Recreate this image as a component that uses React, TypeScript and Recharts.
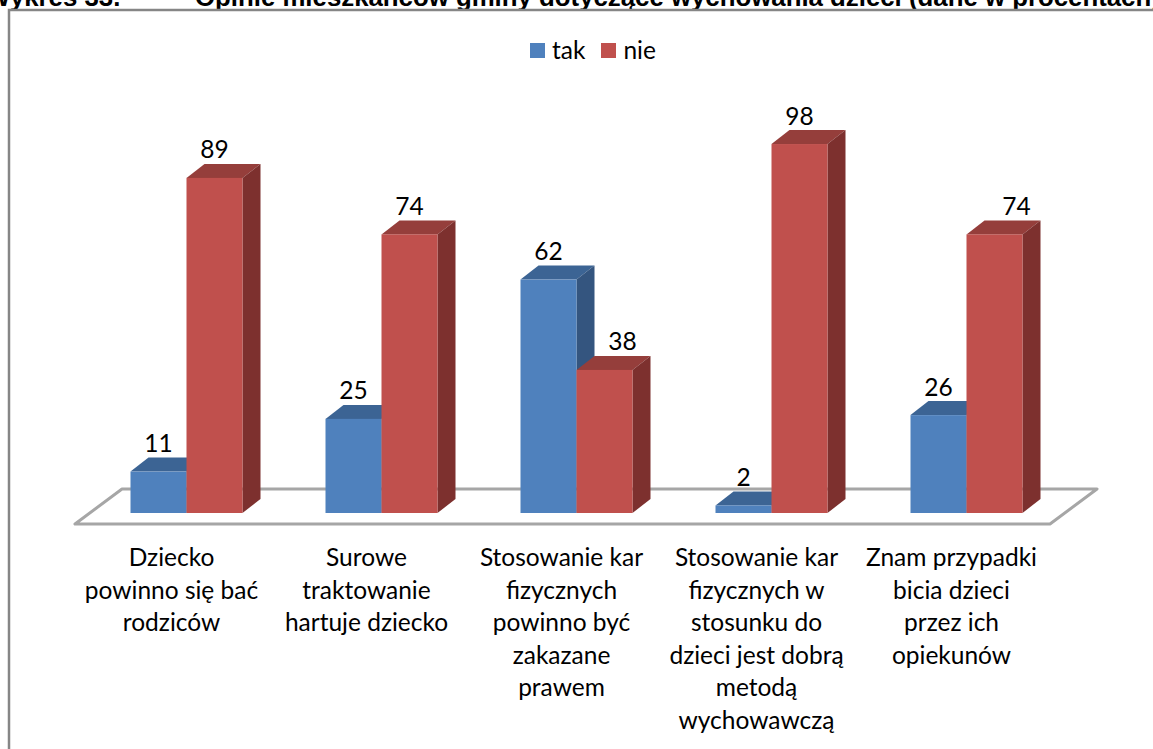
import React from "react";
import { BarChart, Bar, XAxis, YAxis, Legend, LabelList, Customized } from "recharts";

const categories = [
  "Dziecko\npowinno się bać\nrodziców",
  "Surowe\ntraktowanie\nhartuje dziecko",
  "Stosowanie kar\nfizycznych\npowinno być\nzakazane\nprawem",
  "Stosowanie kar\nfizycznych w\nstosunku do\ndzieci jest dobrą\nmetodą\nwychowawczą",
  "Znam przypadki\nbicia dzieci\nprzez ich\nopiekunów",
];
const takValues = [11, 25, 62, 2, 26];
const nieValues = [89, 74, 38, 98, 74];
const titleText = "Wykres 33.";
const titleBody = "Opinie mieszkańców gminy dotyczące wychowania dzieci (dane w procentach)";

const data = categories.map((name, i) => ({ name, tak: takValues[i], nie: nieValues[i] }));

const FONT = "Lato, Carlito, sans-serif";
const DX = 18;
const DY = 14;
const nieLabelNudge = [0, 0, 18, 0, 22];

const Bar3D = ({ x, y, width, height, front, top, side }: any) => (
  <g>
    <polygon points={`${x},${y} ${x + DX},${y - DY} ${x + width + DX},${y - DY} ${x + width},${y}`} fill={top} />
    <polygon
      points={`${x + width},${y} ${x + width + DX},${y - DY} ${x + width + DX},${y + height - DY} ${x + width},${y + height}`}
      fill={side}
    />
    <rect x={x} y={y} width={width} height={height} fill={front} />
  </g>
);

const Backdrop = () => (
  <g>
    <text x={-14} y={6} fontFamily="'Liberation Sans', Arial, sans-serif" fontWeight={700} fontSize={25.8} fill="#000">
      {titleText}
    </text>
    <text x={195} y={6} fontFamily="'Liberation Sans', Arial, sans-serif" fontWeight={700} fontSize={25.8} fill="#000">
      {titleBody}
    </text>
    <path d="M9,749 V10 H1153" fill="none" stroke="#868686" strokeWidth={2.5} />
    <polygon points="75,524 1050,524 1097,489 122,489" fill="#fff" stroke="#A6A6A6" strokeWidth={3} strokeLinejoin="round" />
  </g>
);

const CategoryTick = ({ x, y, payload }: any) => (
  <text textAnchor="middle" fontFamily={FONT} fontSize={24.5} fill="#000">
    {String(payload.value)
      .split("\n")
      .map((line: string, i: number) => (
        <tspan key={i} x={x - 14.5} y={y + 45 + i * 32.5}>
          {line}
        </tspan>
      ))}
  </text>
);

const makeLabel = (nudges: number[] | null) => ({ x, y, width, value, index }: any) => (
  <text
    x={x + width / 2 + (nudges ? nudges[index] : 0)}
    y={y - 19.5}
    textAnchor="middle"
    fontFamily={FONT}
    fontSize={24.5}
    fill="#000"
  >
    {value}
  </text>
);

const LegendContent = ({ payload }: any) => (
  <div style={{ position: "absolute", left: 530, top: 36, display: "flex", fontFamily: FONT, fontSize: 24.5, lineHeight: "28px", whiteSpace: "nowrap" }}>
    {(payload || []).map((p: any, i: number) => (
      <div key={p.value} style={{ display: "flex", alignItems: "center", marginRight: i === 0 ? 16 : 0 }}>
        <span style={{ width: 15, height: 15, background: p.color, display: "inline-block", marginRight: 7 }} />
        <span style={{ color: "#000" }}>{p.value}</span>
      </div>
    ))}
  </div>
);

export default function App() {
  return (
    <div style={{ position: "absolute", left: 0, top: 0, width: 1153, height: 749, overflow: "hidden", background: "#fff" }}>
      <BarChart
        width={1153}
        height={749}
        data={data}
        margin={{ top: 136.5, right: 89.5, bottom: 0, left: 88.5 }}
        barSize={56}
        barGap={0}
      >
        <Customized component={Backdrop} />
        <XAxis dataKey="name" axisLine={false} tickLine={false} height={236} interval={0} tick={<CategoryTick />} />
        <YAxis hide domain={[0, 100]} />
        <Legend
          content={<LegendContent />}
          verticalAlign="top"
          height={0}
          itemSorter={null as any}
          wrapperStyle={{ left: 0, top: 0 }}
        />
        <Bar
          dataKey="tak"
          name="tak"
          fill="#4F81BD"
          isAnimationActive={false}
          shape={(p: any) => <Bar3D {...p} front="#4F81BD" top="#3C6494" side="#34557F" />}
        >
          <LabelList dataKey="tak" content={makeLabel(null)} />
        </Bar>
        <Bar
          dataKey="nie"
          name="nie"
          fill="#C0504D"
          isAnimationActive={false}
          shape={(p: any) => <Bar3D {...p} front="#C0504D" top="#953E3B" side="#7D302E" />}
        >
          <LabelList dataKey="nie" content={makeLabel(nieLabelNudge)} />
        </Bar>
      </BarChart>
    </div>
  );
}
